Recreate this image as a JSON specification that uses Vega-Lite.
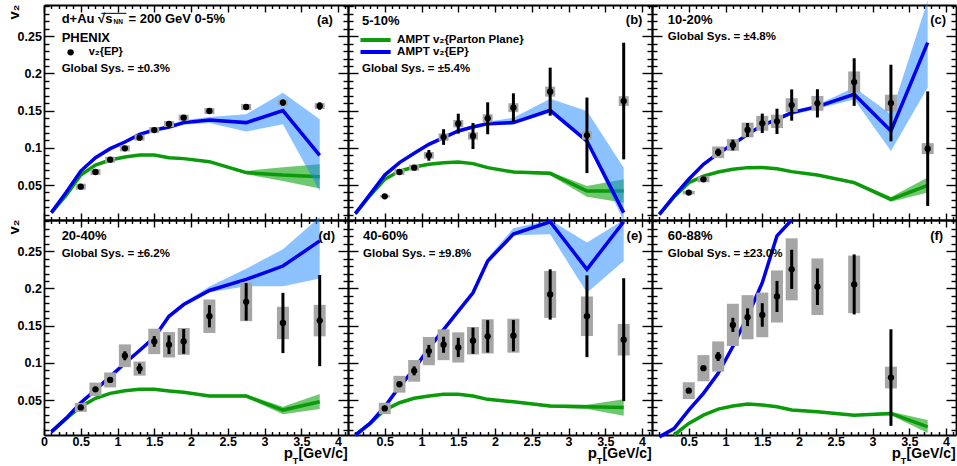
{
"$schema": "https://vega.github.io/schema/vega-lite/v6.json",
"background": "white",
"padding": {"left": 6, "top": 0, "right": 0, "bottom": 0},
"columns": 3, "spacing": 0, "bounds": "flush",
"datasets": {
"model": [
{"p":"a","pt":0.1,"b":0.0129,"bl":0.0109,"bh":0.0149,"g":0.0129,"gl":0.0117,"gh":0.0141},
{"p":"a","pt":0.3,"b":0.040,"bl":0.038,"bh":0.042,"g":0.036,"gl":0.0348,"gh":0.0372},
{"p":"a","pt":0.5,"b":0.0688,"bl":0.0668,"bh":0.0708,"g":0.0634,"gl":0.0622,"gh":0.0646},
{"p":"a","pt":0.7,"b":0.0868,"bl":0.0848,"bh":0.0888,"g":0.0769,"gl":0.0757,"gh":0.0781},
{"p":"a","pt":0.9,"b":0.0989,"bl":0.0969,"bh":0.1009,"g":0.0836,"gl":0.0824,"gh":0.0848},
{"p":"a","pt":1.1,"b":0.1078,"bl":0.1058,"bh":0.1098,"g":0.0876,"gl":0.0864,"gh":0.0888},
{"p":"a","pt":1.3,"b":0.1181,"bl":0.1161,"bh":0.1201,"g":0.0903,"gl":0.0891,"gh":0.0915},
{"p":"a","pt":1.5,"b":0.1239,"bl":0.1219,"bh":0.1259,"g":0.0903,"gl":0.0891,"gh":0.0915},
{"p":"a","pt":1.7,"b":0.128,"bl":0.1255,"bh":0.1305,"g":0.0868,"gl":0.0856,"gh":0.088},
{"p":"a","pt":1.9,"b":0.1339,"bl":0.131,"bh":0.137,"g":0.0855,"gl":0.0843,"gh":0.0867},
{"p":"a","pt":2.25,"b":0.1374,"bl":0.1335,"bh":0.1415,"g":0.0814,"gl":0.080,"gh":0.083},
{"p":"a","pt":2.75,"b":0.1339,"bl":0.1218,"bh":0.145,"g":0.0667,"gl":0.0645,"gh":0.069},
{"p":"a","pt":3.25,"b":0.150,"bl":0.1316,"bh":0.174,"g":0.0634,"gl":0.0555,"gh":0.074},
{"p":"a","pt":3.75,"b":0.090,"bl":0.042,"bh":0.1383,"g":0.0613,"gl":0.0452,"gh":0.0778},
{"p":"b","pt":0.1,"b":0.0115,"bl":0.0095,"bh":0.0135,"g":0.0115,"gl":0.0103,"gh":0.0127},
{"p":"b","pt":0.3,"b":0.0375,"bl":0.0355,"bh":0.0395,"g":0.036,"gl":0.0348,"gh":0.0372},
{"p":"b","pt":0.5,"b":0.0634,"bl":0.0614,"bh":0.0654,"g":0.0577,"gl":0.0565,"gh":0.0589},
{"p":"b","pt":0.7,"b":0.0801,"bl":0.0781,"bh":0.0821,"g":0.0688,"gl":0.0676,"gh":0.07},
{"p":"b","pt":0.9,"b":0.0926,"bl":0.0906,"bh":0.0946,"g":0.0742,"gl":0.073,"gh":0.0754},
{"p":"b","pt":1.1,"b":0.1047,"bl":0.1027,"bh":0.1067,"g":0.0778,"gl":0.0766,"gh":0.079},
{"p":"b","pt":1.3,"b":0.1137,"bl":0.1117,"bh":0.1157,"g":0.080,"gl":0.0788,"gh":0.0812},
{"p":"b","pt":1.5,"b":0.1226,"bl":0.1206,"bh":0.1246,"g":0.081,"gl":0.0798,"gh":0.0822},
{"p":"b","pt":1.7,"b":0.128,"bl":0.1255,"bh":0.1305,"g":0.0788,"gl":0.0776,"gh":0.08},
{"p":"b","pt":1.9,"b":0.1325,"bl":0.130,"bh":0.135,"g":0.0734,"gl":0.0722,"gh":0.0746},
{"p":"b","pt":2.25,"b":0.1339,"bl":0.1315,"bh":0.1405,"g":0.0675,"gl":0.066,"gh":0.069},
{"p":"b","pt":2.75,"b":0.1504,"bl":0.1473,"bh":0.1661,"g":0.0657,"gl":0.063,"gh":0.068},
{"p":"b","pt":3.25,"b":0.1091,"bl":0.107,"bh":0.1495,"g":0.042,"gl":0.0344,"gh":0.0487},
{"p":"b","pt":3.75,"b":0.0129,"bl":0.0016,"bh":0.0734,"g":0.042,"gl":0.0263,"gh":0.0577},
{"p":"c","pt":0.1,"b":0.0106,"bl":0.0086,"bh":0.0126,"g":0.0106,"gl":0.0094,"gh":0.0118},
{"p":"c","pt":0.3,"b":0.0352,"bl":0.0332,"bh":0.0372,"g":0.034,"gl":0.0328,"gh":0.0352},
{"p":"c","pt":0.5,"b":0.0577,"bl":0.0557,"bh":0.0597,"g":0.0532,"gl":0.052,"gh":0.0544},
{"p":"c","pt":0.7,"b":0.0778,"bl":0.0758,"bh":0.0798,"g":0.0621,"gl":0.0609,"gh":0.0633},
{"p":"c","pt":0.9,"b":0.0926,"bl":0.0906,"bh":0.0946,"g":0.0675,"gl":0.0663,"gh":0.0687},
{"p":"c","pt":1.1,"b":0.1047,"bl":0.1027,"bh":0.1067,"g":0.0711,"gl":0.0699,"gh":0.0723},
{"p":"c","pt":1.3,"b":0.1181,"bl":0.1161,"bh":0.1201,"g":0.0734,"gl":0.0722,"gh":0.0746},
{"p":"c","pt":1.5,"b":0.1302,"bl":0.1282,"bh":0.1322,"g":0.0737,"gl":0.0725,"gh":0.0749},
{"p":"c","pt":1.7,"b":0.1383,"bl":0.136,"bh":0.1408,"g":0.072,"gl":0.0708,"gh":0.0732},
{"p":"c","pt":1.9,"b":0.1473,"bl":0.144,"bh":0.150,"g":0.068,"gl":0.0668,"gh":0.0692},
{"p":"c","pt":2.25,"b":0.1554,"bl":0.1525,"bh":0.158,"g":0.0634,"gl":0.062,"gh":0.065},
{"p":"c","pt":2.75,"b":0.1719,"bl":0.165,"bh":0.181,"g":0.0532,"gl":0.051,"gh":0.0555},
{"p":"c","pt":3.25,"b":0.1226,"bl":0.0957,"bh":0.145,"g":0.0308,"gl":0.0276,"gh":0.034},
{"p":"c","pt":3.75,"b":0.2414,"bl":0.181,"bh":0.298,"g":0.0496,"gl":0.0398,"gh":0.060},
{"p":"d","pt":0.1,"b":0.0072,"bl":0.0052,"bh":0.0092,"g":0.0072,"gl":0.006,"gh":0.0084},
{"p":"d","pt":0.3,"b":0.0253,"bl":0.0233,"bh":0.0273,"g":0.025,"gl":0.0238,"gh":0.0262},
{"p":"d","pt":0.5,"b":0.0464,"bl":0.0444,"bh":0.0484,"g":0.041,"gl":0.0398,"gh":0.0422},
{"p":"d","pt":0.7,"b":0.0635,"bl":0.0615,"bh":0.0655,"g":0.0523,"gl":0.0511,"gh":0.0535},
{"p":"d","pt":0.9,"b":0.0815,"bl":0.0795,"bh":0.0835,"g":0.059,"gl":0.0578,"gh":0.0602},
{"p":"d","pt":1.1,"b":0.0995,"bl":0.0975,"bh":0.1015,"g":0.0626,"gl":0.0614,"gh":0.0638},
{"p":"d","pt":1.3,"b":0.1166,"bl":0.1146,"bh":0.1186,"g":0.0644,"gl":0.0632,"gh":0.0656},
{"p":"d","pt":1.5,"b":0.1342,"bl":0.1322,"bh":0.1362,"g":0.0644,"gl":0.0632,"gh":0.0656},
{"p":"d","pt":1.7,"b":0.1626,"bl":0.1603,"bh":0.165,"g":0.0622,"gl":0.061,"gh":0.0634},
{"p":"d","pt":1.9,"b":0.1784,"bl":0.176,"bh":0.181,"g":0.0604,"gl":0.0592,"gh":0.0616},
{"p":"d","pt":2.25,"b":0.1973,"bl":0.195,"bh":0.2027,"g":0.0554,"gl":0.054,"gh":0.057},
{"p":"d","pt":2.75,"b":0.2122,"bl":0.2031,"bh":0.2266,"g":0.0554,"gl":0.0535,"gh":0.0575},
{"p":"d","pt":3.25,"b":0.2301,"bl":0.2031,"bh":0.2527,"g":0.0365,"gl":0.031,"gh":0.041},
{"p":"d","pt":3.75,"b":0.2639,"bl":0.2134,"bh":0.296,"g":0.0477,"gl":0.0378,"gh":0.0581},
{"p":"e","pt":0.1,"b":0.0027,"bl":0.0007,"bh":0.0047,"g":0.0027,"gl":0.0015,"gh":0.0039},
{"p":"e","pt":0.3,"b":0.0185,"bl":0.0165,"bh":0.0205,"g":0.0185,"gl":0.0173,"gh":0.0197},
{"p":"e","pt":0.5,"b":0.041,"bl":0.039,"bh":0.043,"g":0.0365,"gl":0.0353,"gh":0.0377},
{"p":"e","pt":0.7,"b":0.068,"bl":0.066,"bh":0.070,"g":0.0464,"gl":0.0452,"gh":0.0476},
{"p":"e","pt":0.9,"b":0.0915,"bl":0.0895,"bh":0.0935,"g":0.0523,"gl":0.0511,"gh":0.0535},
{"p":"e","pt":1.1,"b":0.1198,"bl":0.1178,"bh":0.1218,"g":0.0554,"gl":0.0542,"gh":0.0566},
{"p":"e","pt":1.3,"b":0.1446,"bl":0.1426,"bh":0.1466,"g":0.0577,"gl":0.0565,"gh":0.0589},
{"p":"e","pt":1.5,"b":0.1694,"bl":0.1674,"bh":0.1714,"g":0.0577,"gl":0.0565,"gh":0.0589},
{"p":"e","pt":1.7,"b":0.1941,"bl":0.1918,"bh":0.1965,"g":0.0554,"gl":0.0542,"gh":0.0566},
{"p":"e","pt":1.9,"b":0.2369,"bl":0.234,"bh":0.241,"g":0.0509,"gl":0.0497,"gh":0.0521},
{"p":"e","pt":2.25,"b":0.273,"bl":0.2716,"bh":0.281,"g":0.0477,"gl":0.0465,"gh":0.049},
{"p":"e","pt":2.75,"b":0.2896,"bl":0.273,"bh":0.292,"g":0.0419,"gl":0.040,"gh":0.0435},
{"p":"e","pt":3.25,"b":0.2257,"bl":0.1941,"bh":0.2617,"g":0.041,"gl":0.0378,"gh":0.0437},
{"p":"e","pt":3.75,"b":0.2896,"bl":0.2369,"bh":0.292,"g":0.0401,"gl":0.0288,"gh":0.0509},
{"p":"f","pt":0.1,"b":0.0005,"bl":0.0,"bh":0.0025,"g":null,"gl":null,"gh":null},
{"p":"f","pt":0.3,"b":0.0117,"bl":0.0097,"bh":0.0137,"g":0.003,"gl":0.002,"gh":0.004},
{"p":"f","pt":0.5,"b":0.0365,"bl":0.0345,"bh":0.0385,"g":0.0185,"gl":0.0173,"gh":0.0197},
{"p":"f","pt":0.7,"b":0.059,"bl":0.057,"bh":0.061,"g":0.0297,"gl":0.0285,"gh":0.0309},
{"p":"f","pt":0.9,"b":0.086,"bl":0.084,"bh":0.088,"g":0.0378,"gl":0.0366,"gh":0.039},
{"p":"f","pt":1.1,"b":0.122,"bl":0.120,"bh":0.124,"g":0.0419,"gl":0.0407,"gh":0.0431},
{"p":"f","pt":1.3,"b":0.1626,"bl":0.1606,"bh":0.1646,"g":0.0446,"gl":0.0434,"gh":0.0458},
{"p":"f","pt":1.5,"b":0.2077,"bl":0.2057,"bh":0.2097,"g":0.0432,"gl":0.042,"gh":0.0444},
{"p":"f","pt":1.7,"b":0.2707,"bl":0.2687,"bh":0.2727,"g":0.041,"gl":0.0398,"gh":0.0422},
{"p":"f","pt":1.9,"b":0.292,"bl":null,"bh":null,"g":0.0365,"gl":0.0353,"gh":0.0377},
{"p":"f","pt":2.25,"b":null,"bl":null,"bh":null,"g":0.0342,"gl":0.033,"gh":0.0354},
{"p":"f","pt":2.75,"b":null,"bl":null,"bh":null,"g":0.0297,"gl":0.0285,"gh":0.0309},
{"p":"f","pt":3.25,"b":null,"bl":null,"bh":null,"g":0.032,"gl":0.0297,"gh":0.0342},
{"p":"f","pt":3.75,"b":null,"bl":null,"bh":null,"g":0.0139,"gl":0.0058,"gh":0.023}
],
"meas": [
{"p":"a","pt":0.5,"v":0.0478,"st":0.001,"sy":0.004},
{"p":"a","pt":0.7,"v":0.0675,"st":0.001,"sy":0.004},
{"p":"a","pt":0.9,"v":0.0841,"st":0.001,"sy":0.004},
{"p":"a","pt":1.1,"v":0.0993,"st":0.001,"sy":0.004},
{"p":"a","pt":1.3,"v":0.1137,"st":0.0012,"sy":0.004},
{"p":"a","pt":1.5,"v":0.1239,"st":0.0014,"sy":0.004},
{"p":"a","pt":1.7,"v":0.132,"st":0.0016,"sy":0.004},
{"p":"a","pt":1.9,"v":0.1406,"st":0.0018,"sy":0.004},
{"p":"a","pt":2.25,"v":0.1495,"st":0.002,"sy":0.004},
{"p":"a","pt":2.75,"v":0.1549,"st":0.003,"sy":0.004},
{"p":"a","pt":3.25,"v":0.1608,"st":0.004,"sy":0.004},
{"p":"a","pt":3.75,"v":0.1562,"st":0.005,"sy":0.004},
{"p":"b","pt":0.5,"v":0.0348,"st":0.001,"sy":0.0015},
{"p":"b","pt":0.7,"v":0.0675,"st":0.0015,"sy":0.004},
{"p":"b","pt":0.9,"v":0.0734,"st":0.0022,"sy":0.004},
{"p":"b","pt":1.1,"v":0.0899,"st":0.0072,"sy":0.0045},
{"p":"b","pt":1.3,"v":0.1145,"st":0.0105,"sy":0.005},
{"p":"b","pt":1.5,"v":0.1325,"st":0.0134,"sy":0.005},
{"p":"b","pt":1.7,"v":0.1159,"st":0.0175,"sy":0.005},
{"p":"b","pt":1.9,"v":0.1397,"st":0.0215,"sy":0.0055},
{"p":"b","pt":2.25,"v":0.154,"st":0.0193,"sy":0.006},
{"p":"b","pt":2.75,"v":0.1755,"st":0.0323,"sy":0.0067},
{"p":"b","pt":3.25,"v":0.1168,"st":0.0508,"sy":0.006},
{"p":"b","pt":3.75,"v":0.1629,"st":0.0784,"sy":0.0065},
{"p":"c","pt":0.5,"v":0.0398,"st":0.001,"sy":0.0025},
{"p":"c","pt":0.7,"v":0.0577,"st":0.0015,"sy":0.004},
{"p":"c","pt":0.9,"v":0.094,"st":0.005,"sy":0.0078},
{"p":"c","pt":1.1,"v":0.1038,"st":0.0072,"sy":0.0078},
{"p":"c","pt":1.3,"v":0.124,"st":0.0094,"sy":0.0099},
{"p":"c","pt":1.5,"v":0.133,"st":0.013,"sy":0.01},
{"p":"c","pt":1.7,"v":0.1356,"st":0.017,"sy":0.009},
{"p":"c","pt":1.9,"v":0.1575,"st":0.021,"sy":0.0092},
{"p":"c","pt":2.25,"v":0.1598,"st":0.019,"sy":0.01},
{"p":"c","pt":2.75,"v":0.1884,"st":0.032,"sy":0.0143},
{"p":"c","pt":3.25,"v":0.1602,"st":0.0515,"sy":0.0112},
{"p":"c","pt":3.75,"v":0.0989,"st":0.077,"sy":0.0074},
{"p":"d","pt":0.5,"v":0.0401,"st":0.001,"sy":0.006},
{"p":"d","pt":0.7,"v":0.0644,"st":0.002,"sy":0.009},
{"p":"d","pt":0.9,"v":0.077,"st":0.003,"sy":0.01},
{"p":"d","pt":1.1,"v":0.1095,"st":0.006,"sy":0.0153},
{"p":"d","pt":1.3,"v":0.0923,"st":0.0068,"sy":0.0095},
{"p":"d","pt":1.5,"v":0.1288,"st":0.0072,"sy":0.0171},
{"p":"d","pt":1.7,"v":0.1243,"st":0.0126,"sy":0.0171},
{"p":"d","pt":1.9,"v":0.1288,"st":0.0167,"sy":0.018},
{"p":"d","pt":2.25,"v":0.1626,"st":0.0149,"sy":0.0225},
{"p":"d","pt":2.75,"v":0.182,"st":0.0252,"sy":0.026},
{"p":"d","pt":3.25,"v":0.1536,"st":0.0405,"sy":0.0218},
{"p":"d","pt":3.75,"v":0.1568,"st":0.0613,"sy":0.0212},
{"p":"e","pt":0.5,"v":0.0387,"st":0.001,"sy":0.0077},
{"p":"e","pt":0.7,"v":0.0712,"st":0.002,"sy":0.0113},
{"p":"e","pt":0.9,"v":0.0892,"st":0.006,"sy":0.0146},
{"p":"e","pt":1.1,"v":0.1158,"st":0.0083,"sy":0.019},
{"p":"e","pt":1.3,"v":0.1243,"st":0.0108,"sy":0.0207},
{"p":"e","pt":1.5,"v":0.1207,"st":0.013,"sy":0.0203},
{"p":"e","pt":1.7,"v":0.1297,"st":0.0176,"sy":0.0185},
{"p":"e","pt":1.9,"v":0.1356,"st":0.0218,"sy":0.023},
{"p":"e","pt":2.25,"v":0.1365,"st":0.021,"sy":0.0228},
{"p":"e","pt":2.75,"v":0.1919,"st":0.0338,"sy":0.0315},
{"p":"e","pt":3.25,"v":0.1626,"st":0.055,"sy":0.0266},
{"p":"e","pt":3.75,"v":0.1311,"st":0.0826,"sy":0.0212},
{"p":"f","pt":0.5,"v":0.0626,"st":0.0015,"sy":0.0113},
{"p":"f","pt":0.7,"v":0.0928,"st":0.002,"sy":0.0176},
{"p":"f","pt":0.9,"v":0.1085,"st":0.006,"sy":0.0203},
{"p":"f","pt":1.1,"v":0.151,"st":0.0095,"sy":0.0284},
{"p":"f","pt":1.3,"v":0.1613,"st":0.0119,"sy":0.0297},
{"p":"f","pt":1.5,"v":0.1644,"st":0.0158,"sy":0.03},
{"p":"f","pt":1.7,"v":0.1892,"st":0.0209,"sy":0.035},
{"p":"f","pt":1.9,"v":0.2257,"st":0.0263,"sy":0.0417},
{"p":"f","pt":2.25,"v":0.2023,"st":0.0245,"sy":0.038},
{"p":"f","pt":2.75,"v":0.2054,"st":0.0403,"sy":0.0387},
{"p":"f","pt":3.25,"v":0.0802,"st":0.0649,"sy":0.0146}
]
},
"concat": [
{"width":304,"height":215,"resolve":{"axis":{"x":"independent","y":"independent"}},"layer":[
 {"data":{"name":"model"},"transform":[{"filter":"datum.p=='a'"}],"mark":{"type":"area","color":"#22aa22","opacity":0.65},"encoding":{"x":{"field":"pt","type":"quantitative","scale":{"domain":[0,4.135],"nice":false,"zero":false},"axis":{"orient":"bottom","values":[0,0.5,1,1.5,2,2.5,3,3.5,4],"tickSize":-7,"labels":false,"title":null}},"y":{"field":"gl","type":"quantitative","scale":{"domain":[0.003,0.292],"nice":false,"zero":false},"axis":{"orient":"left","values":[0.05,0.1,0.15,0.2,0.25],"tickSize":-10,"labelPadding":12.6,"format":"~g","title":"v₂","titleAngle":-90,"titleAlign":"right","titleBaseline":"middle","titleX":-31,"titleY":-1,"titleFontSize":15}},"y2":{"field":"gh"}}},
 {"data":{"name":"model"},"transform":[{"filter":"datum.p=='a'"}],"mark":{"type":"line","color":"#0a9a0a","strokeWidth":3.5},"encoding":{"x":{"field":"pt","type":"quantitative","scale":{"domain":[0,4.135],"nice":false,"zero":false},"axis":{"orient":"bottom","values":[0.1,0.2,0.3,0.4,0.6,0.7,0.8,0.9,1.1,1.2,1.3,1.4,1.6,1.7,1.8,1.9,2.1,2.2,2.3,2.4,2.6,2.7,2.8,2.9,3.1,3.2,3.3,3.4,3.6,3.7,3.8,3.9,4.1],"tickSize":-3.5,"labels":false,"domain":false,"title":null}},"y":{"field":"g","type":"quantitative","scale":{"domain":[0.003,0.292],"nice":false,"zero":false},"axis":{"orient":"left","values":[0.01,0.02,0.03,0.04,0.06,0.07,0.08,0.09,0.11,0.12,0.13,0.14,0.16,0.17,0.18,0.19,0.21,0.22,0.23,0.24,0.26,0.27,0.28,0.29],"tickSize":-5,"labels":false,"domain":false,"title":null}}}},
 {"data":{"name":"model"},"transform":[{"filter":"datum.p=='a'"}],"mark":{"type":"area","color":"#1a86ff","opacity":0.5},"encoding":{"x":{"field":"pt","type":"quantitative","scale":{"domain":[0,4.135],"nice":false,"zero":false},"axis":{"orient":"top","values":[0,0.5,1,1.5,2,2.5,3,3.5,4],"tickSize":-7,"labels":false,"title":null}},"y":{"field":"bl","type":"quantitative","scale":{"domain":[0.003,0.292],"nice":false,"zero":false},"axis":{"orient":"right","values":[0.05,0.1,0.15,0.2,0.25],"tickSize":-10,"labels":false,"title":null}},"y2":{"field":"bh"}}},
 {"data":{"name":"model"},"transform":[{"filter":"datum.p=='a'"}],"mark":{"type":"line","color":"#0000ee","strokeWidth":3.5},"encoding":{"x":{"field":"pt","type":"quantitative","scale":{"domain":[0,4.135],"nice":false,"zero":false},"axis":{"orient":"top","values":[0.1,0.2,0.3,0.4,0.6,0.7,0.8,0.9,1.1,1.2,1.3,1.4,1.6,1.7,1.8,1.9,2.1,2.2,2.3,2.4,2.6,2.7,2.8,2.9,3.1,3.2,3.3,3.4,3.6,3.7,3.8,3.9,4.1],"tickSize":-3.5,"labels":false,"domain":false,"title":null}},"y":{"field":"b","type":"quantitative","scale":{"domain":[0.003,0.292],"nice":false,"zero":false},"axis":{"orient":"right","values":[0.01,0.02,0.03,0.04,0.06,0.07,0.08,0.09,0.11,0.12,0.13,0.14,0.16,0.17,0.18,0.19,0.21,0.22,0.23,0.24,0.26,0.27,0.28,0.29],"tickSize":-5,"labels":false,"domain":false,"title":null}}}},
 {"data":{"name":"meas"},"transform":[{"filter":"datum.p=='a'"}],"mark":{"type":"errorbar","thickness":10,"color":"#a6a6a6"},"encoding":{"x":{"field":"pt","type":"quantitative","scale":{"domain":[0,4.135],"nice":false,"zero":false},"axis":null},"y":{"field":"v","type":"quantitative","scale":{"domain":[0.003,0.292],"nice":false,"zero":false},"axis":null},"yError":{"field":"sy"}}},
 {"data":{"name":"meas"},"transform":[{"filter":"datum.p=='a'"}],"mark":{"type":"errorbar","thickness":3,"color":"black"},"encoding":{"x":{"field":"pt","type":"quantitative","scale":{"domain":[0,4.135],"nice":false,"zero":false},"axis":null},"y":{"field":"v","type":"quantitative","scale":{"domain":[0.003,0.292],"nice":false,"zero":false},"axis":null},"yError":{"field":"st"}}},
 {"data":{"name":"meas"},"transform":[{"filter":"datum.p=='a'"}],"mark":{"type":"circle"},"encoding":{"x":{"field":"pt","type":"quantitative","scale":{"domain":[0,4.135],"nice":false,"zero":false},"axis":null},"y":{"field":"v","type":"quantitative","scale":{"domain":[0.003,0.292],"nice":false,"zero":false},"axis":null}}},
 {"data":{"values":[{}]},"mark":{"type":"text","text":"d+Au √s","fontSize":13},"encoding":{"x":{"datum":0.24,"type":"quantitative","axis":null},"y":{"datum":0.2727,"type":"quantitative","axis":null}}},
 {"data":{"values":[{}]},"mark":{"type":"text","text":"NN","fontSize":6.5},"encoding":{"x":{"datum":0.947,"type":"quantitative","axis":null},"y":{"datum":0.2687,"type":"quantitative","axis":null}}},
 {"data":{"values":[{}]},"mark":{"type":"rule","color":"black","strokeWidth":1},"encoding":{"x":{"datum":0.78,"type":"quantitative","axis":null},"x2":{"datum":1.12},"y":{"datum":0.2808,"type":"quantitative","axis":null}}},
 {"data":{"values":[{}]},"mark":{"type":"text","text":"= 200 GeV 0-5%","fontSize":13},"encoding":{"x":{"datum":1.149,"type":"quantitative","axis":null},"y":{"datum":0.2727,"type":"quantitative","axis":null}}},
 {"data":{"values":[{}]},"mark":{"type":"text","text":"PHENIX","fontSize":13},"encoding":{"x":{"datum":0.24,"type":"quantitative","axis":null},"y":{"datum":0.2472,"type":"quantitative","axis":null}}},
 {"data":{"values":[{}]},"mark":{"type":"circle"},"encoding":{"x":{"datum":0.362,"type":"quantitative","axis":null},"y":{"datum":0.2284,"type":"quantitative","axis":null}}},
 {"data":{"values":[{}]},"mark":{"type":"text","text":"v₂{EP}","fontSize":11},"encoding":{"x":{"datum":0.607,"type":"quantitative","axis":null},"y":{"datum":0.2284,"type":"quantitative","axis":null}}},
 {"data":{"values":[{}]},"mark":{"type":"text","text":"Global Sys. = ±0.3%"},"encoding":{"x":{"datum":0.24,"type":"quantitative","axis":null},"y":{"datum":0.2055,"type":"quantitative","axis":null}}},
 {"data":{"values":[{}]},"mark":{"type":"text","text":"(a)","fontSize":13,"align":"right"},"encoding":{"x":{"datum":3.93,"type":"quantitative","axis":null},"y":{"datum":0.2714,"type":"quantitative","axis":null}}}
]},
{"width":304,"height":215,"resolve":{"axis":{"x":"independent","y":"independent"}},"layer":[
 {"data":{"name":"model"},"transform":[{"filter":"datum.p=='b'"}],"mark":{"type":"area","color":"#22aa22","opacity":0.65},"encoding":{"x":{"field":"pt","type":"quantitative","scale":{"domain":[0,4.135],"nice":false,"zero":false},"axis":{"orient":"bottom","values":[0,0.5,1,1.5,2,2.5,3,3.5,4],"tickSize":-7,"labels":false,"title":null}},"y":{"field":"gl","type":"quantitative","scale":{"domain":[0.003,0.292],"nice":false,"zero":false},"axis":{"orient":"left","values":[0.05,0.1,0.15,0.2,0.25],"tickSize":-10,"labels":false,"title":null}},"y2":{"field":"gh"}}},
 {"data":{"name":"model"},"transform":[{"filter":"datum.p=='b'"}],"mark":{"type":"line","color":"#0a9a0a","strokeWidth":3.5},"encoding":{"x":{"field":"pt","type":"quantitative","scale":{"domain":[0,4.135],"nice":false,"zero":false},"axis":{"orient":"bottom","values":[0.1,0.2,0.3,0.4,0.6,0.7,0.8,0.9,1.1,1.2,1.3,1.4,1.6,1.7,1.8,1.9,2.1,2.2,2.3,2.4,2.6,2.7,2.8,2.9,3.1,3.2,3.3,3.4,3.6,3.7,3.8,3.9,4.1],"tickSize":-3.5,"labels":false,"domain":false,"title":null}},"y":{"field":"g","type":"quantitative","scale":{"domain":[0.003,0.292],"nice":false,"zero":false},"axis":{"orient":"left","values":[0.01,0.02,0.03,0.04,0.06,0.07,0.08,0.09,0.11,0.12,0.13,0.14,0.16,0.17,0.18,0.19,0.21,0.22,0.23,0.24,0.26,0.27,0.28,0.29],"tickSize":-5,"labels":false,"domain":false,"title":null}}}},
 {"data":{"name":"model"},"transform":[{"filter":"datum.p=='b'"}],"mark":{"type":"area","color":"#1a86ff","opacity":0.5},"encoding":{"x":{"field":"pt","type":"quantitative","scale":{"domain":[0,4.135],"nice":false,"zero":false},"axis":{"orient":"top","values":[0,0.5,1,1.5,2,2.5,3,3.5,4],"tickSize":-7,"labels":false,"title":null}},"y":{"field":"bl","type":"quantitative","scale":{"domain":[0.003,0.292],"nice":false,"zero":false},"axis":{"orient":"right","values":[0.05,0.1,0.15,0.2,0.25],"tickSize":-10,"labels":false,"title":null}},"y2":{"field":"bh"}}},
 {"data":{"name":"model"},"transform":[{"filter":"datum.p=='b'"}],"mark":{"type":"line","color":"#0000ee","strokeWidth":3.5},"encoding":{"x":{"field":"pt","type":"quantitative","scale":{"domain":[0,4.135],"nice":false,"zero":false},"axis":{"orient":"top","values":[0.1,0.2,0.3,0.4,0.6,0.7,0.8,0.9,1.1,1.2,1.3,1.4,1.6,1.7,1.8,1.9,2.1,2.2,2.3,2.4,2.6,2.7,2.8,2.9,3.1,3.2,3.3,3.4,3.6,3.7,3.8,3.9,4.1],"tickSize":-3.5,"labels":false,"domain":false,"title":null}},"y":{"field":"b","type":"quantitative","scale":{"domain":[0.003,0.292],"nice":false,"zero":false},"axis":{"orient":"right","values":[0.01,0.02,0.03,0.04,0.06,0.07,0.08,0.09,0.11,0.12,0.13,0.14,0.16,0.17,0.18,0.19,0.21,0.22,0.23,0.24,0.26,0.27,0.28,0.29],"tickSize":-5,"labels":false,"domain":false,"title":null}}}},
 {"data":{"name":"meas"},"transform":[{"filter":"datum.p=='b'"}],"mark":{"type":"errorbar","thickness":10,"color":"#a6a6a6"},"encoding":{"x":{"field":"pt","type":"quantitative","scale":{"domain":[0,4.135],"nice":false,"zero":false},"axis":null},"y":{"field":"v","type":"quantitative","scale":{"domain":[0.003,0.292],"nice":false,"zero":false},"axis":null},"yError":{"field":"sy"}}},
 {"data":{"name":"meas"},"transform":[{"filter":"datum.p=='b'"}],"mark":{"type":"errorbar","thickness":3,"color":"black"},"encoding":{"x":{"field":"pt","type":"quantitative","scale":{"domain":[0,4.135],"nice":false,"zero":false},"axis":null},"y":{"field":"v","type":"quantitative","scale":{"domain":[0.003,0.292],"nice":false,"zero":false},"axis":null},"yError":{"field":"st"}}},
 {"data":{"name":"meas"},"transform":[{"filter":"datum.p=='b'"}],"mark":{"type":"circle"},"encoding":{"x":{"field":"pt","type":"quantitative","scale":{"domain":[0,4.135],"nice":false,"zero":false},"axis":null},"y":{"field":"v","type":"quantitative","scale":{"domain":[0.003,0.292],"nice":false,"zero":false},"axis":null}}},
 {"data":{"values":[{}]},"mark":{"type":"text","text":"5-10%","fontSize":13},"encoding":{"x":{"datum":0.19,"type":"quantitative","axis":null},"y":{"datum":0.2704,"type":"quantitative","axis":null}}},
 {"data":{"values":[{}]},"mark":{"type":"rule","color":"#0a9a0a","strokeWidth":4},"encoding":{"x":{"datum":0.17,"type":"quantitative","axis":null},"x2":{"datum":0.58},"y":{"datum":0.2449,"type":"quantitative","axis":null}}},
 {"data":{"values":[{}]},"mark":{"type":"rule","color":"#0000ee","strokeWidth":4},"encoding":{"x":{"datum":0.17,"type":"quantitative","axis":null},"x2":{"datum":0.58},"y":{"datum":0.2288,"type":"quantitative","axis":null}}},
 {"data":{"values":[{}]},"mark":{"type":"text","text":"AMPT v₂{Parton Plane}"},"encoding":{"x":{"datum":0.668,"type":"quantitative","axis":null},"y":{"datum":0.2449,"type":"quantitative","axis":null}}},
 {"data":{"values":[{}]},"mark":{"type":"text","text":"AMPT v₂{EP}"},"encoding":{"x":{"datum":0.668,"type":"quantitative","axis":null},"y":{"datum":0.2288,"type":"quantitative","axis":null}}},
 {"data":{"values":[{}]},"mark":{"type":"text","text":"Global Sys. = ±5.4%"},"encoding":{"x":{"datum":0.19,"type":"quantitative","axis":null},"y":{"datum":0.2055,"type":"quantitative","axis":null}}},
 {"data":{"values":[{}]},"mark":{"type":"text","text":"(b)","fontSize":13,"align":"right"},"encoding":{"x":{"datum":4.005,"type":"quantitative","axis":null},"y":{"datum":0.2714,"type":"quantitative","axis":null}}}
]},
{"width":304,"height":215,"resolve":{"axis":{"x":"independent","y":"independent"}},"layer":[
 {"data":{"name":"model"},"transform":[{"filter":"datum.p=='c'"}],"mark":{"type":"area","color":"#22aa22","opacity":0.65},"encoding":{"x":{"field":"pt","type":"quantitative","scale":{"domain":[0,4.135],"nice":false,"zero":false},"axis":{"orient":"bottom","values":[0,0.5,1,1.5,2,2.5,3,3.5,4],"tickSize":-7,"labels":false,"title":null}},"y":{"field":"gl","type":"quantitative","scale":{"domain":[0.003,0.292],"nice":false,"zero":false},"axis":{"orient":"left","values":[0.05,0.1,0.15,0.2,0.25],"tickSize":-10,"labels":false,"title":null}},"y2":{"field":"gh"}}},
 {"data":{"name":"model"},"transform":[{"filter":"datum.p=='c'"}],"mark":{"type":"line","color":"#0a9a0a","strokeWidth":3.5},"encoding":{"x":{"field":"pt","type":"quantitative","scale":{"domain":[0,4.135],"nice":false,"zero":false},"axis":{"orient":"bottom","values":[0.1,0.2,0.3,0.4,0.6,0.7,0.8,0.9,1.1,1.2,1.3,1.4,1.6,1.7,1.8,1.9,2.1,2.2,2.3,2.4,2.6,2.7,2.8,2.9,3.1,3.2,3.3,3.4,3.6,3.7,3.8,3.9,4.1],"tickSize":-3.5,"labels":false,"domain":false,"title":null}},"y":{"field":"g","type":"quantitative","scale":{"domain":[0.003,0.292],"nice":false,"zero":false},"axis":{"orient":"left","values":[0.01,0.02,0.03,0.04,0.06,0.07,0.08,0.09,0.11,0.12,0.13,0.14,0.16,0.17,0.18,0.19,0.21,0.22,0.23,0.24,0.26,0.27,0.28,0.29],"tickSize":-5,"labels":false,"domain":false,"title":null}}}},
 {"data":{"name":"model"},"transform":[{"filter":"datum.p=='c'"}],"mark":{"type":"area","color":"#1a86ff","opacity":0.5},"encoding":{"x":{"field":"pt","type":"quantitative","scale":{"domain":[0,4.135],"nice":false,"zero":false},"axis":{"orient":"top","values":[0,0.5,1,1.5,2,2.5,3,3.5,4],"tickSize":-7,"labels":false,"title":null}},"y":{"field":"bl","type":"quantitative","scale":{"domain":[0.003,0.292],"nice":false,"zero":false},"axis":{"orient":"right","values":[0.05,0.1,0.15,0.2,0.25],"tickSize":-10,"labels":false,"title":null}},"y2":{"field":"bh"}}},
 {"data":{"name":"model"},"transform":[{"filter":"datum.p=='c'"}],"mark":{"type":"line","color":"#0000ee","strokeWidth":3.5},"encoding":{"x":{"field":"pt","type":"quantitative","scale":{"domain":[0,4.135],"nice":false,"zero":false},"axis":{"orient":"top","values":[0.1,0.2,0.3,0.4,0.6,0.7,0.8,0.9,1.1,1.2,1.3,1.4,1.6,1.7,1.8,1.9,2.1,2.2,2.3,2.4,2.6,2.7,2.8,2.9,3.1,3.2,3.3,3.4,3.6,3.7,3.8,3.9,4.1],"tickSize":-3.5,"labels":false,"domain":false,"title":null}},"y":{"field":"b","type":"quantitative","scale":{"domain":[0.003,0.292],"nice":false,"zero":false},"axis":{"orient":"right","values":[0.01,0.02,0.03,0.04,0.06,0.07,0.08,0.09,0.11,0.12,0.13,0.14,0.16,0.17,0.18,0.19,0.21,0.22,0.23,0.24,0.26,0.27,0.28,0.29],"tickSize":-5,"labels":false,"domain":false,"title":null}}}},
 {"data":{"name":"meas"},"transform":[{"filter":"datum.p=='c'"}],"mark":{"type":"errorbar","thickness":12,"color":"#a6a6a6"},"encoding":{"x":{"field":"pt","type":"quantitative","scale":{"domain":[0,4.135],"nice":false,"zero":false},"axis":null},"y":{"field":"v","type":"quantitative","scale":{"domain":[0.003,0.292],"nice":false,"zero":false},"axis":null},"yError":{"field":"sy"}}},
 {"data":{"name":"meas"},"transform":[{"filter":"datum.p=='c'"}],"mark":{"type":"errorbar","thickness":3,"color":"black"},"encoding":{"x":{"field":"pt","type":"quantitative","scale":{"domain":[0,4.135],"nice":false,"zero":false},"axis":null},"y":{"field":"v","type":"quantitative","scale":{"domain":[0.003,0.292],"nice":false,"zero":false},"axis":null},"yError":{"field":"st"}}},
 {"data":{"name":"meas"},"transform":[{"filter":"datum.p=='c'"}],"mark":{"type":"circle"},"encoding":{"x":{"field":"pt","type":"quantitative","scale":{"domain":[0,4.135],"nice":false,"zero":false},"axis":null},"y":{"field":"v","type":"quantitative","scale":{"domain":[0.003,0.292],"nice":false,"zero":false},"axis":null}}},
 {"data":{"values":[{}]},"mark":{"type":"text","text":"10-20%","fontSize":13},"encoding":{"x":{"datum":0.214,"type":"quantitative","axis":null},"y":{"datum":0.2718,"type":"quantitative","axis":null}}},
 {"data":{"values":[{}]},"mark":{"type":"text","text":"Global Sys. = ±4.8%"},"encoding":{"x":{"datum":0.214,"type":"quantitative","axis":null},"y":{"datum":0.2494,"type":"quantitative","axis":null}}},
 {"data":{"values":[{}]},"mark":{"type":"text","text":"(c)","fontSize":13,"align":"right"},"encoding":{"x":{"datum":4.0,"type":"quantitative","axis":null},"y":{"datum":0.2714,"type":"quantitative","axis":null}}}
]},
{"width":304,"height":215,"resolve":{"axis":{"x":"independent","y":"independent"}},"layer":[
 {"data":{"name":"model"},"transform":[{"filter":"datum.p=='d'"}],"mark":{"type":"area","color":"#22aa22","opacity":0.65},"encoding":{"x":{"field":"pt","type":"quantitative","scale":{"domain":[0,4.135],"nice":false,"zero":false},"axis":{"orient":"bottom","values":[0,0.5,1,1.5,2,2.5,3,3.5,4],"tickSize":-7,"labelPadding":7,"format":"~g","title":null}},"y":{"field":"gl","type":"quantitative","scale":{"domain":[0.003,0.292],"nice":false,"zero":false},"axis":{"orient":"left","values":[0.05,0.1,0.15,0.2,0.25],"tickSize":-10,"labelPadding":12.6,"format":"~g","title":"v₂","titleAngle":-90,"titleAlign":"right","titleBaseline":"middle","titleX":-31,"titleY":-1,"titleFontSize":15}},"y2":{"field":"gh"}}},
 {"data":{"name":"model"},"transform":[{"filter":"datum.p=='d'"}],"mark":{"type":"line","color":"#0a9a0a","strokeWidth":3.5},"encoding":{"x":{"field":"pt","type":"quantitative","scale":{"domain":[0,4.135],"nice":false,"zero":false},"axis":{"orient":"bottom","values":[0.1,0.2,0.3,0.4,0.6,0.7,0.8,0.9,1.1,1.2,1.3,1.4,1.6,1.7,1.8,1.9,2.1,2.2,2.3,2.4,2.6,2.7,2.8,2.9,3.1,3.2,3.3,3.4,3.6,3.7,3.8,3.9,4.1],"tickSize":-3.5,"labels":false,"domain":false,"title":null}},"y":{"field":"g","type":"quantitative","scale":{"domain":[0.003,0.292],"nice":false,"zero":false},"axis":{"orient":"left","values":[0.01,0.02,0.03,0.04,0.06,0.07,0.08,0.09,0.11,0.12,0.13,0.14,0.16,0.17,0.18,0.19,0.21,0.22,0.23,0.24,0.26,0.27,0.28,0.29],"tickSize":-5,"labels":false,"domain":false,"title":null}}}},
 {"data":{"name":"model"},"transform":[{"filter":"datum.p=='d'"}],"mark":{"type":"area","color":"#1a86ff","opacity":0.5},"encoding":{"x":{"field":"pt","type":"quantitative","scale":{"domain":[0,4.135],"nice":false,"zero":false},"axis":{"orient":"top","values":[0,0.5,1,1.5,2,2.5,3,3.5,4],"tickSize":-7,"labels":false,"title":null}},"y":{"field":"bl","type":"quantitative","scale":{"domain":[0.003,0.292],"nice":false,"zero":false},"axis":{"orient":"right","values":[0.05,0.1,0.15,0.2,0.25],"tickSize":-10,"labels":false,"title":null}},"y2":{"field":"bh"}}},
 {"data":{"name":"model"},"transform":[{"filter":"datum.p=='d'"}],"mark":{"type":"line","color":"#0000ee","strokeWidth":3.5},"encoding":{"x":{"field":"pt","type":"quantitative","scale":{"domain":[0,4.135],"nice":false,"zero":false},"axis":{"orient":"top","values":[0.1,0.2,0.3,0.4,0.6,0.7,0.8,0.9,1.1,1.2,1.3,1.4,1.6,1.7,1.8,1.9,2.1,2.2,2.3,2.4,2.6,2.7,2.8,2.9,3.1,3.2,3.3,3.4,3.6,3.7,3.8,3.9,4.1],"tickSize":-3.5,"labels":false,"domain":false,"title":null}},"y":{"field":"b","type":"quantitative","scale":{"domain":[0.003,0.292],"nice":false,"zero":false},"axis":{"orient":"right","values":[0.01,0.02,0.03,0.04,0.06,0.07,0.08,0.09,0.11,0.12,0.13,0.14,0.16,0.17,0.18,0.19,0.21,0.22,0.23,0.24,0.26,0.27,0.28,0.29],"tickSize":-5,"labels":false,"domain":false,"title":null}}}},
 {"data":{"name":"meas"},"transform":[{"filter":"datum.p=='d'"}],"mark":{"type":"errorbar","thickness":12,"color":"#a6a6a6"},"encoding":{"x":{"field":"pt","type":"quantitative","scale":{"domain":[0,4.135],"nice":false,"zero":false},"axis":null},"y":{"field":"v","type":"quantitative","scale":{"domain":[0.003,0.292],"nice":false,"zero":false},"axis":null},"yError":{"field":"sy"}}},
 {"data":{"name":"meas"},"transform":[{"filter":"datum.p=='d'"}],"mark":{"type":"errorbar","thickness":3,"color":"black"},"encoding":{"x":{"field":"pt","type":"quantitative","scale":{"domain":[0,4.135],"nice":false,"zero":false},"axis":null},"y":{"field":"v","type":"quantitative","scale":{"domain":[0.003,0.292],"nice":false,"zero":false},"axis":null},"yError":{"field":"st"}}},
 {"data":{"name":"meas"},"transform":[{"filter":"datum.p=='d'"}],"mark":{"type":"circle"},"encoding":{"x":{"field":"pt","type":"quantitative","scale":{"domain":[0,4.135],"nice":false,"zero":false},"axis":null},"y":{"field":"v","type":"quantitative","scale":{"domain":[0.003,0.292],"nice":false,"zero":false},"axis":null}}},
 {"data":{"values":[{}]},"mark":{"type":"text","text":"20-40%","fontSize":13},"encoding":{"x":{"datum":0.24,"type":"quantitative","axis":null},"y":{"datum":0.2707,"type":"quantitative","axis":null}}},
 {"data":{"values":[{}]},"mark":{"type":"text","text":"Global Sys. = ±6.2%"},"encoding":{"x":{"datum":0.24,"type":"quantitative","axis":null},"y":{"datum":0.2459,"type":"quantitative","axis":null}}},
 {"data":{"values":[{}]},"mark":{"type":"text","text":"(d)","fontSize":13,"align":"right"},"encoding":{"x":{"datum":3.958,"type":"quantitative","axis":null},"y":{"datum":0.2703,"type":"quantitative","axis":null}}},
 {"data":{"values":[{}]},"mark":{"type":"text","text":"p","fontSize":15,"baseline":"alphabetic"},"encoding":{"x":{"datum":3.26,"type":"quantitative","axis":null},"y":{"datum":-0.0275,"type":"quantitative","axis":null}}},
 {"data":{"values":[{}]},"mark":{"type":"text","text":"T","fontSize":9,"baseline":"alphabetic"},"encoding":{"x":{"datum":3.385,"type":"quantitative","axis":null},"y":{"datum":-0.0365,"type":"quantitative","axis":null}}},
 {"data":{"values":[{}]},"mark":{"type":"text","text":"[GeV/c]","fontSize":14,"baseline":"alphabetic","align":"right"},"encoding":{"x":{"datum":4.13,"type":"quantitative","axis":null},"y":{"datum":-0.0275,"type":"quantitative","axis":null}}}
]},
{"width":304,"height":215,"resolve":{"axis":{"x":"independent","y":"independent"}},"layer":[
 {"data":{"name":"model"},"transform":[{"filter":"datum.p=='e'"}],"mark":{"type":"area","color":"#22aa22","opacity":0.65},"encoding":{"x":{"field":"pt","type":"quantitative","scale":{"domain":[0,4.135],"nice":false,"zero":false},"axis":{"orient":"bottom","values":[0.5,1,1.5,2,2.5,3,3.5,4],"tickSize":-7,"labelPadding":7,"format":"~g","title":null}},"y":{"field":"gl","type":"quantitative","scale":{"domain":[0.003,0.292],"nice":false,"zero":false},"axis":{"orient":"left","values":[0.05,0.1,0.15,0.2,0.25],"tickSize":-10,"labels":false,"title":null}},"y2":{"field":"gh"}}},
 {"data":{"name":"model"},"transform":[{"filter":"datum.p=='e'"}],"mark":{"type":"line","color":"#0a9a0a","strokeWidth":3.5},"encoding":{"x":{"field":"pt","type":"quantitative","scale":{"domain":[0,4.135],"nice":false,"zero":false},"axis":{"orient":"bottom","values":[0.1,0.2,0.3,0.4,0.6,0.7,0.8,0.9,1.1,1.2,1.3,1.4,1.6,1.7,1.8,1.9,2.1,2.2,2.3,2.4,2.6,2.7,2.8,2.9,3.1,3.2,3.3,3.4,3.6,3.7,3.8,3.9,4.1],"tickSize":-3.5,"labels":false,"domain":false,"title":null}},"y":{"field":"g","type":"quantitative","scale":{"domain":[0.003,0.292],"nice":false,"zero":false},"axis":{"orient":"left","values":[0.01,0.02,0.03,0.04,0.06,0.07,0.08,0.09,0.11,0.12,0.13,0.14,0.16,0.17,0.18,0.19,0.21,0.22,0.23,0.24,0.26,0.27,0.28,0.29],"tickSize":-5,"labels":false,"domain":false,"title":null}}}},
 {"data":{"name":"model"},"transform":[{"filter":"datum.p=='e'"}],"mark":{"type":"area","color":"#1a86ff","opacity":0.5},"encoding":{"x":{"field":"pt","type":"quantitative","scale":{"domain":[0,4.135],"nice":false,"zero":false},"axis":{"orient":"top","values":[0,0.5,1,1.5,2,2.5,3,3.5,4],"tickSize":-7,"labels":false,"title":null}},"y":{"field":"bl","type":"quantitative","scale":{"domain":[0.003,0.292],"nice":false,"zero":false},"axis":{"orient":"right","values":[0.05,0.1,0.15,0.2,0.25],"tickSize":-10,"labels":false,"title":null}},"y2":{"field":"bh"}}},
 {"data":{"name":"model"},"transform":[{"filter":"datum.p=='e'"}],"mark":{"type":"line","color":"#0000ee","strokeWidth":3.5},"encoding":{"x":{"field":"pt","type":"quantitative","scale":{"domain":[0,4.135],"nice":false,"zero":false},"axis":{"orient":"top","values":[0.1,0.2,0.3,0.4,0.6,0.7,0.8,0.9,1.1,1.2,1.3,1.4,1.6,1.7,1.8,1.9,2.1,2.2,2.3,2.4,2.6,2.7,2.8,2.9,3.1,3.2,3.3,3.4,3.6,3.7,3.8,3.9,4.1],"tickSize":-3.5,"labels":false,"domain":false,"title":null}},"y":{"field":"b","type":"quantitative","scale":{"domain":[0.003,0.292],"nice":false,"zero":false},"axis":{"orient":"right","values":[0.01,0.02,0.03,0.04,0.06,0.07,0.08,0.09,0.11,0.12,0.13,0.14,0.16,0.17,0.18,0.19,0.21,0.22,0.23,0.24,0.26,0.27,0.28,0.29],"tickSize":-5,"labels":false,"domain":false,"title":null}}}},
 {"data":{"name":"meas"},"transform":[{"filter":"datum.p=='e'"}],"mark":{"type":"errorbar","thickness":12,"color":"#a6a6a6"},"encoding":{"x":{"field":"pt","type":"quantitative","scale":{"domain":[0,4.135],"nice":false,"zero":false},"axis":null},"y":{"field":"v","type":"quantitative","scale":{"domain":[0.003,0.292],"nice":false,"zero":false},"axis":null},"yError":{"field":"sy"}}},
 {"data":{"name":"meas"},"transform":[{"filter":"datum.p=='e'"}],"mark":{"type":"errorbar","thickness":3,"color":"black"},"encoding":{"x":{"field":"pt","type":"quantitative","scale":{"domain":[0,4.135],"nice":false,"zero":false},"axis":null},"y":{"field":"v","type":"quantitative","scale":{"domain":[0.003,0.292],"nice":false,"zero":false},"axis":null},"yError":{"field":"st"}}},
 {"data":{"name":"meas"},"transform":[{"filter":"datum.p=='e'"}],"mark":{"type":"circle"},"encoding":{"x":{"field":"pt","type":"quantitative","scale":{"domain":[0,4.135],"nice":false,"zero":false},"axis":null},"y":{"field":"v","type":"quantitative","scale":{"domain":[0.003,0.292],"nice":false,"zero":false},"axis":null}}},
 {"data":{"values":[{}]},"mark":{"type":"text","text":"40-60%","fontSize":13},"encoding":{"x":{"datum":0.204,"type":"quantitative","axis":null},"y":{"datum":0.2699,"type":"quantitative","axis":null}}},
 {"data":{"values":[{}]},"mark":{"type":"text","text":"Global Sys. = ±9.8%"},"encoding":{"x":{"datum":0.204,"type":"quantitative","axis":null},"y":{"datum":0.2459,"type":"quantitative","axis":null}}},
 {"data":{"values":[{}]},"mark":{"type":"text","text":"(e)","fontSize":13,"align":"right"},"encoding":{"x":{"datum":4.005,"type":"quantitative","axis":null},"y":{"datum":0.2703,"type":"quantitative","axis":null}}},
 {"data":{"values":[{}]},"mark":{"type":"text","text":"p","fontSize":15,"baseline":"alphabetic"},"encoding":{"x":{"datum":3.26,"type":"quantitative","axis":null},"y":{"datum":-0.0275,"type":"quantitative","axis":null}}},
 {"data":{"values":[{}]},"mark":{"type":"text","text":"T","fontSize":9,"baseline":"alphabetic"},"encoding":{"x":{"datum":3.385,"type":"quantitative","axis":null},"y":{"datum":-0.0365,"type":"quantitative","axis":null}}},
 {"data":{"values":[{}]},"mark":{"type":"text","text":"[GeV/c]","fontSize":14,"baseline":"alphabetic","align":"right"},"encoding":{"x":{"datum":4.13,"type":"quantitative","axis":null},"y":{"datum":-0.0275,"type":"quantitative","axis":null}}}
]},
{"width":304,"height":215,"resolve":{"axis":{"x":"independent","y":"independent"}},"layer":[
 {"data":{"name":"model"},"transform":[{"filter":"datum.p=='f'"}],"mark":{"type":"area","color":"#22aa22","opacity":0.65},"encoding":{"x":{"field":"pt","type":"quantitative","scale":{"domain":[0,4.135],"nice":false,"zero":false},"axis":{"orient":"bottom","values":[0.5,1,1.5,2,2.5,3,3.5,4],"tickSize":-7,"labelPadding":7,"format":"~g","title":null}},"y":{"field":"gl","type":"quantitative","scale":{"domain":[0.003,0.292],"nice":false,"zero":false},"axis":{"orient":"left","values":[0.05,0.1,0.15,0.2,0.25],"tickSize":-10,"labels":false,"title":null}},"y2":{"field":"gh"}}},
 {"data":{"name":"model"},"transform":[{"filter":"datum.p=='f'"}],"mark":{"type":"line","color":"#0a9a0a","strokeWidth":3.5},"encoding":{"x":{"field":"pt","type":"quantitative","scale":{"domain":[0,4.135],"nice":false,"zero":false},"axis":{"orient":"bottom","values":[0.1,0.2,0.3,0.4,0.6,0.7,0.8,0.9,1.1,1.2,1.3,1.4,1.6,1.7,1.8,1.9,2.1,2.2,2.3,2.4,2.6,2.7,2.8,2.9,3.1,3.2,3.3,3.4,3.6,3.7,3.8,3.9,4.1],"tickSize":-3.5,"labels":false,"domain":false,"title":null}},"y":{"field":"g","type":"quantitative","scale":{"domain":[0.003,0.292],"nice":false,"zero":false},"axis":{"orient":"left","values":[0.01,0.02,0.03,0.04,0.06,0.07,0.08,0.09,0.11,0.12,0.13,0.14,0.16,0.17,0.18,0.19,0.21,0.22,0.23,0.24,0.26,0.27,0.28,0.29],"tickSize":-5,"labels":false,"domain":false,"title":null}}}},
 {"data":{"name":"model"},"transform":[{"filter":"datum.p=='f'"}],"mark":{"type":"area","color":"#1a86ff","opacity":0.5},"encoding":{"x":{"field":"pt","type":"quantitative","scale":{"domain":[0,4.135],"nice":false,"zero":false},"axis":{"orient":"top","values":[0,0.5,1,1.5,2,2.5,3,3.5,4],"tickSize":-7,"labels":false,"title":null}},"y":{"field":"bl","type":"quantitative","scale":{"domain":[0.003,0.292],"nice":false,"zero":false},"axis":{"orient":"right","values":[0.05,0.1,0.15,0.2,0.25],"tickSize":-10,"labels":false,"title":null}},"y2":{"field":"bh"}}},
 {"data":{"name":"model"},"transform":[{"filter":"datum.p=='f'"}],"mark":{"type":"line","color":"#0000ee","strokeWidth":3.5},"encoding":{"x":{"field":"pt","type":"quantitative","scale":{"domain":[0,4.135],"nice":false,"zero":false},"axis":{"orient":"top","values":[0.1,0.2,0.3,0.4,0.6,0.7,0.8,0.9,1.1,1.2,1.3,1.4,1.6,1.7,1.8,1.9,2.1,2.2,2.3,2.4,2.6,2.7,2.8,2.9,3.1,3.2,3.3,3.4,3.6,3.7,3.8,3.9,4.1],"tickSize":-3.5,"labels":false,"domain":false,"title":null}},"y":{"field":"b","type":"quantitative","scale":{"domain":[0.003,0.292],"nice":false,"zero":false},"axis":{"orient":"right","values":[0.01,0.02,0.03,0.04,0.06,0.07,0.08,0.09,0.11,0.12,0.13,0.14,0.16,0.17,0.18,0.19,0.21,0.22,0.23,0.24,0.26,0.27,0.28,0.29],"tickSize":-5,"labels":false,"domain":false,"title":null}}}},
 {"data":{"name":"meas"},"transform":[{"filter":"datum.p=='f'"}],"mark":{"type":"errorbar","thickness":12,"color":"#a6a6a6"},"encoding":{"x":{"field":"pt","type":"quantitative","scale":{"domain":[0,4.135],"nice":false,"zero":false},"axis":null},"y":{"field":"v","type":"quantitative","scale":{"domain":[0.003,0.292],"nice":false,"zero":false},"axis":null},"yError":{"field":"sy"}}},
 {"data":{"name":"meas"},"transform":[{"filter":"datum.p=='f'"}],"mark":{"type":"errorbar","thickness":3,"color":"black"},"encoding":{"x":{"field":"pt","type":"quantitative","scale":{"domain":[0,4.135],"nice":false,"zero":false},"axis":null},"y":{"field":"v","type":"quantitative","scale":{"domain":[0.003,0.292],"nice":false,"zero":false},"axis":null},"yError":{"field":"st"}}},
 {"data":{"name":"meas"},"transform":[{"filter":"datum.p=='f'"}],"mark":{"type":"circle"},"encoding":{"x":{"field":"pt","type":"quantitative","scale":{"domain":[0,4.135],"nice":false,"zero":false},"axis":null},"y":{"field":"v","type":"quantitative","scale":{"domain":[0.003,0.292],"nice":false,"zero":false},"axis":null}}},
 {"data":{"values":[{}]},"mark":{"type":"text","text":"60-88%","fontSize":13},"encoding":{"x":{"datum":0.214,"type":"quantitative","axis":null},"y":{"datum":0.2699,"type":"quantitative","axis":null}}},
 {"data":{"values":[{}]},"mark":{"type":"text","text":"Global Sys. = ±23.0%"},"encoding":{"x":{"datum":0.214,"type":"quantitative","axis":null},"y":{"datum":0.2459,"type":"quantitative","axis":null}}},
 {"data":{"values":[{}]},"mark":{"type":"text","text":"(f)","fontSize":13,"align":"right"},"encoding":{"x":{"datum":3.96,"type":"quantitative","axis":null},"y":{"datum":0.2703,"type":"quantitative","axis":null}}},
 {"data":{"values":[{}]},"mark":{"type":"text","text":"p","fontSize":15,"baseline":"alphabetic"},"encoding":{"x":{"datum":3.26,"type":"quantitative","axis":null},"y":{"datum":-0.0275,"type":"quantitative","axis":null}}},
 {"data":{"values":[{}]},"mark":{"type":"text","text":"T","fontSize":9,"baseline":"alphabetic"},"encoding":{"x":{"datum":3.385,"type":"quantitative","axis":null},"y":{"datum":-0.0365,"type":"quantitative","axis":null}}},
 {"data":{"values":[{}]},"mark":{"type":"text","text":"[GeV/c]","fontSize":14,"baseline":"alphabetic","align":"right"},"encoding":{"x":{"datum":4.13,"type":"quantitative","axis":null},"y":{"datum":-0.0275,"type":"quantitative","axis":null}}}
]}
],
"config": {
 "view": {"stroke": null},
 "axis": {"grid": false, "domainColor": "black", "domainWidth": 1.8, "tickColor": "black", "tickWidth": 1.4, "labelColor": "black", "labelFont": "Liberation Sans", "labelFontWeight": "bold", "labelFontSize": 12.5, "titleFont": "Liberation Sans", "titleFontWeight": "bold", "titleColor": "black", "labelFlush": false, "labelOverlap": false},
 "text": {"font": "Liberation Sans", "fontWeight": "bold", "fontSize": 11.5, "align": "left", "baseline": "middle", "color": "black"},
 "circle": {"size": 40, "opacity": 1, "color": "black"}
}
}
